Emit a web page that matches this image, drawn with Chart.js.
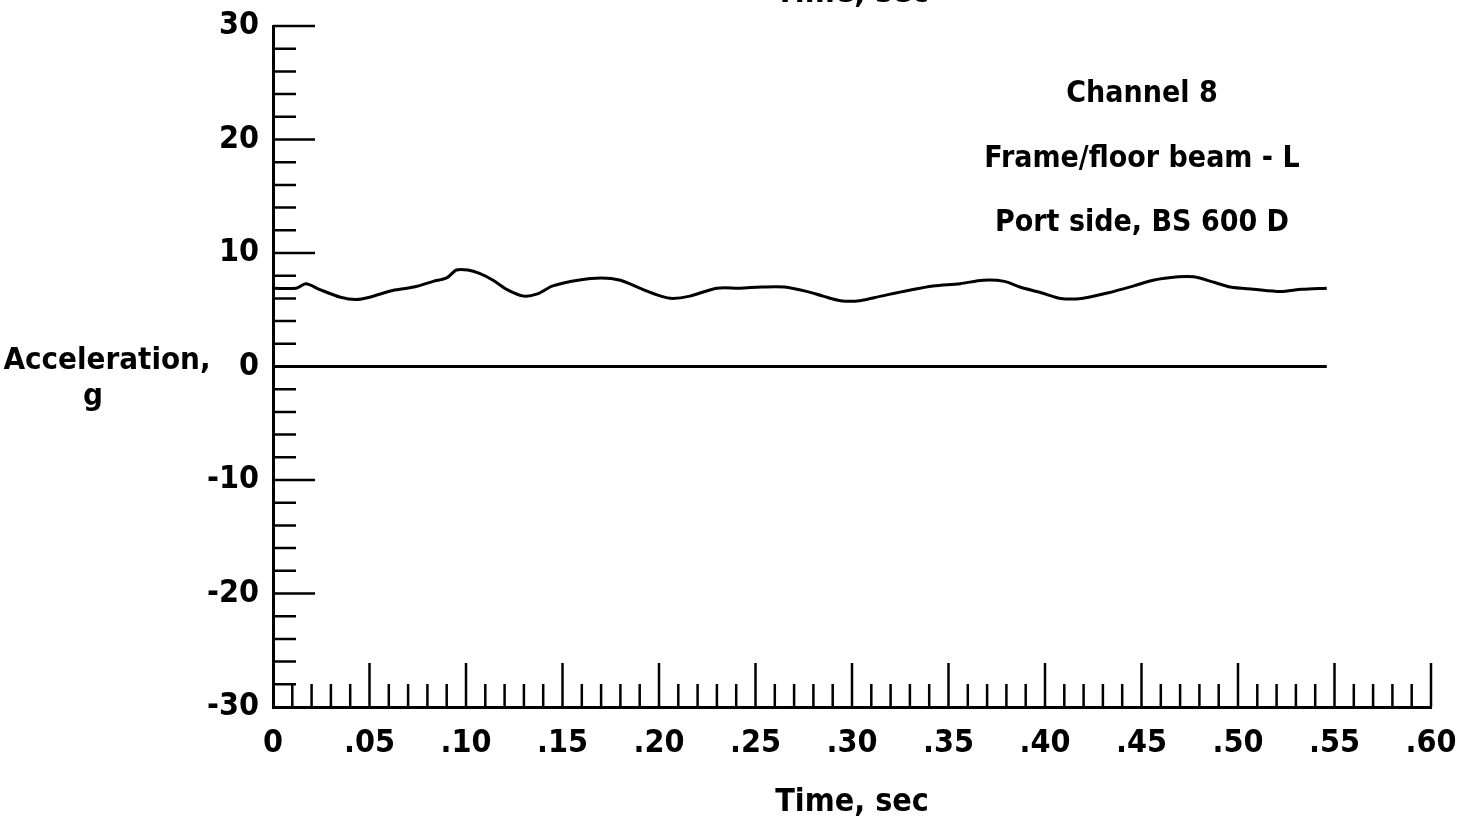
<!DOCTYPE html>
<html lang="en">
<head>
<meta charset="UTF-8">
<title>Channel 8 acceleration</title>
<script src="https://cdn.jsdelivr.net/npm/chart.js"></script>
<style>
  html, body { margin: 0; padding: 0; background: #fff; }
  canvas { display: block; }
</style>
</head>
<body>
<canvas id="accelChart" width="1468" height="823"></canvas>
<script>
// Channel 8 trace: time (sec) and acceleration (g)
const traceTime = [0, 0.012, 0.017, 0.024, 0.035, 0.043, 0.050, 0.062, 0.073, 0.083,
  0.090, 0.095, 0.101, 0.107, 0.114, 0.121, 0.130, 0.137, 0.145, 0.158,
  0.170, 0.180, 0.190, 0.201, 0.207, 0.216, 0.230, 0.242, 0.253, 0.265,
  0.277, 0.285, 0.294, 0.304, 0.315, 0.329, 0.342, 0.356, 0.368, 0.379,
  0.387, 0.398, 0.408, 0.419, 0.433, 0.446, 0.456, 0.469, 0.477, 0.488,
  0.496, 0.508, 0.522, 0.533, 0.546];
const traceAccel = [6.9, 6.9, 7.3, 6.8, 6.1, 5.9, 6.1, 6.7, 7.0, 7.5,
  7.8, 8.5, 8.5, 8.2, 7.6, 6.8, 6.2, 6.4, 7.1, 7.6,
  7.8, 7.6, 6.9, 6.2, 6.0, 6.2, 6.9, 6.9, 7.0, 7.0,
  6.6, 6.2, 5.8, 5.8, 6.2, 6.7, 7.1, 7.3, 7.6, 7.5,
  7.0, 6.5, 6.0, 6.0, 6.5, 7.1, 7.6, 7.9, 7.9, 7.4,
  7.0, 6.8, 6.6, 6.8, 6.9];

// zero reference line
const zeroTime = [0, 0.546];
const zeroAccel = [0, 0];

const xTickValues = [0, 0.05, 0.10, 0.15, 0.20, 0.25, 0.30, 0.35, 0.40, 0.45, 0.50, 0.55, 0.60];
const xTickLabels = ['0', '.05', '.10', '.15', '.20', '.25', '.30', '.35', '.40', '.45', '.50', '.55', '.60'];
const yTickValues = [-30, -20, -10, 0, 10, 20, 30];
const yTickLabels = ['-30', '-20', '-10', '0', '10', '20', '30'];

const channelNotes = ['Channel 8', 'Frame/floor beam - L', 'Port side, BS 600 D'];
const yTitleLines = ['Acceleration,', 'g'];
const xTitle = 'Time, sec';

const FONT = "'DejaVu Sans Condensed', 'Liberation Sans Narrow', 'DejaVu Sans', sans-serif";
Chart.defaults.font.family = FONT;
Chart.defaults.color = '#000';

function toPoints(xs, ys) {
  return xs.map((x, i) => ({ x: x, y: ys[i] }));
}

function labelFor(values, labels, v) {
  const i = values.findIndex(t => Math.abs(t - v) < 1e-6);
  return i >= 0 ? labels[i] : '';
}

// long ticks every major step, short ones in between, all drawn inward
const tickMarks = {
  id: 'tickMarks',
  afterDatasetsDraw(chart) {
    const ctx = chart.ctx;
    const xs = chart.scales.x, ys = chart.scales.y;
    const area = chart.chartArea;
    ctx.save();
    ctx.strokeStyle = '#000';
    ctx.lineWidth = 2.5;
    ctx.beginPath();
    for (let i = 1; i <= 60; i++) {
      const px = xs.getPixelForValue(i / 100);
      const len = i % 5 === 0 ? 44 : 23;
      ctx.moveTo(px, area.bottom);
      ctx.lineTo(px, area.bottom - len);
    }
    for (let v = -28; v <= 30; v += 2) {
      const py = ys.getPixelForValue(v);
      const len = v % 10 === 0 ? 42 : 23;
      ctx.moveTo(area.left, py);
      ctx.lineTo(area.left + len, py);
    }
    ctx.stroke();
    ctx.restore();
  }
};

// free text: channel notes, horizontal y title, the clipped title of the plot above
const notes = {
  id: 'notes',
  afterDraw(chart) {
    const ctx = chart.ctx;
    ctx.save();
    ctx.fillStyle = '#000';
    ctx.textAlign = 'center';
    ctx.textBaseline = 'alphabetic';
    ctx.font = 'bold 30px ' + FONT;
    const noteY = [102, 167, 231];
    channelNotes.forEach((t, i) => ctx.fillText(t, 1142, noteY[i]));

    ctx.font = 'bold 31px ' + FONT;
    ctx.fillText(yTitleLines[0], 107, 369);
    ctx.fillText(yTitleLines[1], 93, 405);

    ctx.font = 'bold 32px ' + FONT;
    ctx.fillText(xTitle, 852, 2);
    ctx.restore();
  }
};

new Chart(document.getElementById('accelChart'), {
  type: 'line',
  data: {
    datasets: [
      {
        label: 'Channel 8',
        data: toPoints(traceTime, traceAccel),
        borderColor: '#000',
        borderWidth: 3,
        pointRadius: 0,
        tension: 0.3,
        fill: false
      },
      {
        label: 'zero',
        data: toPoints(zeroTime, zeroAccel),
        borderColor: '#000',
        borderWidth: 3,
        pointRadius: 0,
        fill: false
      }
    ]
  },
  options: {
    responsive: false,
    animation: false,
    layout: { padding: { top: 26, right: 37, left: 0, bottom: 0 } },
    plugins: {
      legend: { display: false },
      tooltip: { enabled: false }
    },
    scales: {
      x: {
        type: 'linear',
        min: 0,
        max: 0.6,
        grid: { display: false, drawTicks: false },
        border: { display: true, color: '#000', width: 3 },
        ticks: {
          stepSize: 0.05,
          autoSkip: false,
          maxRotation: 0,
          padding: 17,
          font: { size: 32, weight: 'bold' },
          callback: v => labelFor(xTickValues, xTickLabels, v)
        },
        title: {
          display: true,
          text: xTitle,
          font: { size: 32, weight: 'bold' },
          padding: { top: 0, bottom: 1 }
        },
        afterFit(scale) {
          scale.height = 116;
          scale.paddingLeft = 0;
          scale.paddingRight = 0;
        }
      },
      y: {
        min: -30,
        max: 30,
        grid: { display: false, drawTicks: false },
        border: { display: true, color: '#000', width: 3 },
        ticks: {
          stepSize: 10,
          padding: 14,
          font: { size: 32, weight: 'bold', lineHeight: 1.0 },
          callback: v => labelFor(yTickValues, yTickLabels, v)
        },
        afterFit(scale) {
          scale.width = 273;
          scale.paddingTop = 0;
          scale.paddingBottom = 0;
        }
      }
    }
  },
  plugins: [tickMarks, notes]
});
</script>
</body>
</html>
